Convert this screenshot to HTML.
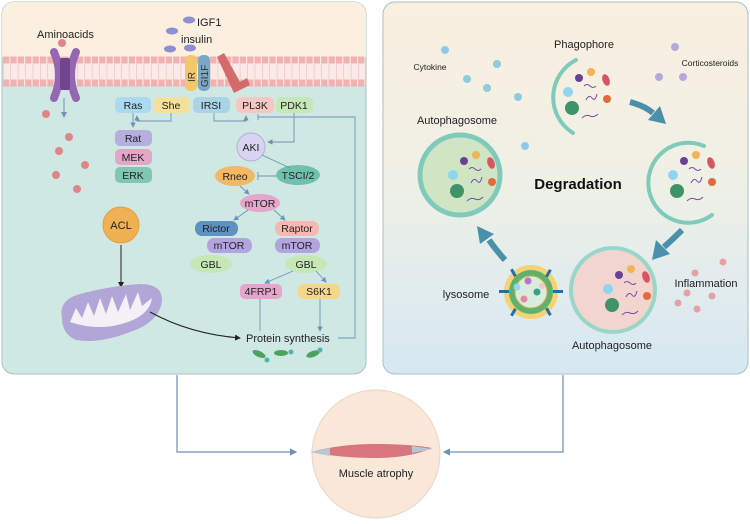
<!DOCTYPE html>
<html><head><meta charset="utf-8"><style>
html,body{margin:0;padding:0;background:#fff}
svg{display:block;font-family:"Liberation Sans",Arial,sans-serif}
</style></head><body>
<svg width="750" height="524" viewBox="0 0 750 524" xmlns="http://www.w3.org/2000/svg">
<defs>
<linearGradient id="rg" x1="0" y1="0" x2="0" y2="1"><stop offset="0" stop-color="#faefdf"/><stop offset="0.5" stop-color="#eef0e6"/><stop offset="1" stop-color="#d6e8f2"/></linearGradient>
<marker id="ab" markerWidth="6" markerHeight="6" refX="5" refY="3" orient="auto"><path d="M0,0 L6,3 L0,6z" fill="#6f93b5"/></marker>
<marker id="ak" markerWidth="6" markerHeight="6" refX="5" refY="3" orient="auto"><path d="M0,0 L6,3 L0,6z" fill="#222"/></marker>
</defs>

<!-- Left panel -->
<rect x="2" y="2" width="364" height="372" rx="12" fill="#cfe8e3" stroke="#a7c3c4"/>
<path d="M2,57 V14 a12,12 0 0 1 12,-12 H354 a12,12 0 0 1 12,12 V57z" fill="#fbefdf"/>
<rect x="3" y="58" width="362" height="27" fill="#fbe9e6"/>
<line x1="3" y1="60" x2="365" y2="60" stroke="#f1b1b1" stroke-width="7" stroke-dasharray="6.2 1.2"/>
<line x1="3" y1="83" x2="365" y2="83" stroke="#f1b1b1" stroke-width="7" stroke-dasharray="6.2 1.2"/>
<line x1="3" y1="71.5" x2="365" y2="71.5" stroke="#d9b2b2" stroke-width="16" stroke-dasharray="0.6 6.8" opacity="0.7"/>
<!-- channel -->
<path d="M54,52 Q64,75 54,98" stroke="#9468b0" stroke-width="8" fill="none" stroke-linecap="round"/>
<path d="M76,52 Q66,75 76,98" stroke="#9468b0" stroke-width="8" fill="none" stroke-linecap="round"/>
<rect x="60" y="58" width="10" height="32" rx="2" fill="#6f4590"/>
<line x1="64" y1="98" x2="64" y2="117" stroke="#6f93b5" marker-end="url(#ab)"/>
<text x="37" y="38" font-size="11" fill="#222">Aminoacids</text>
<g fill="#e08585"><circle cx="62" cy="43" r="4"/><circle cx="46" cy="114" r="4"/><circle cx="69" cy="137" r="4"/><circle cx="59" cy="151" r="4"/><circle cx="85" cy="165" r="4"/><circle cx="56" cy="175" r="4"/><circle cx="77" cy="189" r="4"/></g>
<g fill="#8e8fd0"><ellipse cx="189" cy="20" rx="6" ry="3.5"/><ellipse cx="172" cy="31" rx="6" ry="3.5"/><ellipse cx="170" cy="49" rx="6" ry="3.5"/><ellipse cx="190" cy="48" rx="6" ry="3.5"/></g>
<text x="197" y="26" font-size="11" fill="#222">IGF1</text>
<text x="181" y="43" font-size="11" fill="#222">insulin</text>
<rect x="185" y="55" width="12" height="36" rx="5" fill="#f2c86a"/>
<rect x="198" y="55" width="12" height="36" rx="5" fill="#7aa7c4"/>
<text transform="translate(195,82) rotate(-90)" font-size="10" fill="#333">IR</text>
<text transform="translate(208,87) rotate(-90)" font-size="10" fill="#333">GI1F</text>
<path d="M217,57 L224,53 L240,82 L247,78 L250,85 L234,93z" fill="#d46a6a"/>
<g font-size="10.5" text-anchor="middle" fill="#222">
<rect x="115" y="97" width="36" height="16" rx="5" fill="#a9daf0"/><text x="133" y="109">Ras</text>
<rect x="153" y="97" width="37" height="16" rx="5" fill="#f4e09a"/><text x="171" y="109">She</text>
<rect x="193" y="97" width="37" height="16" rx="5" fill="#a9d4e6"/><text x="211" y="109">IRSI</text>
<rect x="236" y="97" width="38" height="16" rx="5" fill="#f5c7c3"/><text x="255" y="109">PL3K</text>
<rect x="276" y="97" width="37" height="16" rx="5" fill="#c6e8b6"/><text x="294" y="109">PDK1</text>
<rect x="115" y="130" width="37" height="16" rx="5" fill="#b7aee0"/><text x="133" y="142">Rat</text>
<rect x="115" y="149" width="37" height="16" rx="5" fill="#e3a6c8"/><text x="133" y="161">MEK</text>
<rect x="115" y="167" width="37" height="16" rx="5" fill="#7fc7b0"/><text x="133" y="179">ERK</text>
<circle cx="251" cy="147" r="14" fill="#d8d3f0" stroke="#b5aee0"/><text x="251" y="151">AKI</text>
<ellipse cx="298" cy="175" rx="22" ry="10" fill="#6fc0ad"/><text x="298" y="179">TSCI/2</text>
<ellipse cx="235" cy="176" rx="20" ry="10" fill="#f2b864"/><text x="235" y="180">Rneo</text>
<ellipse cx="260" cy="203" rx="20" ry="9" fill="#e6a6cb"/><text x="260" y="207">mTOR</text>
<rect x="195" y="221" width="43" height="15" rx="7" fill="#5f92c0"/><text x="216" y="232">Rictor</text>
<rect x="207" y="238" width="45" height="15" rx="7" fill="#b2a5df"/><text x="229" y="249">mTOR</text>
<ellipse cx="211" cy="264" rx="21" ry="9" fill="#c6e8b6"/><text x="211" y="268">GBL</text>
<rect x="275" y="221" width="44" height="15" rx="7" fill="#f5b9b2"/><text x="297" y="232">Raptor</text>
<rect x="275" y="238" width="45" height="15" rx="7" fill="#b2a5df"/><text x="297" y="249">mTOR</text>
<ellipse cx="306" cy="264" rx="21" ry="9" fill="#c6e8b6"/><text x="306" y="268">GBL</text>
<rect x="240" y="284" width="42" height="15" rx="5" fill="#e6a6cb"/><text x="261" y="295">4FRP1</text>
<rect x="298" y="284" width="42" height="15" rx="5" fill="#f4d88a"/><text x="319" y="295">S6K1</text>
</g>
<g stroke="#6f93b5" fill="none" stroke-width="0.9">
<path d="M171,113 V121 H137 V116" marker-end="url(#ab)"/>
<path d="M133,113 V127" marker-end="url(#ab)"/>
<path d="M214,113 V121 H246 V116" marker-end="url(#ab)"/>
<path d="M294,113 V142 H268" marker-end="url(#ab)"/>
<path d="M262,155 L290,168"/>
<path d="M276,176 H258"/><path d="M258,172 V180"/>
<path d="M240,186 L249,194" marker-end="url(#ab)"/>
<path d="M248,210 L234,220" marker-end="url(#ab)"/>
<path d="M274,210 L285,220" marker-end="url(#ab)"/>
<path d="M293,271 L265,283" marker-end="url(#ab)"/>
<path d="M316,271 L326,282" marker-end="url(#ab)"/>
<path d="M260,299 V331"/>
<path d="M320,299 V331" marker-end="url(#ab)"/>
<path d="M338,338 H355 V117 H258"/><path d="M258,114 V120"/>
</g>
<circle cx="121" cy="225" r="18" fill="#f0b154" stroke="#e39e3c"/>
<text x="121" y="229" font-size="11" text-anchor="middle" fill="#222">ACL</text>
<line x1="121" y1="245" x2="121" y2="287" stroke="#222" marker-end="url(#ak)"/>
<!-- mitochondrion -->
<path d="M62,318 Q58,300 80,294 Q110,286 140,284 Q162,284 162,300 Q160,322 130,332 Q100,344 76,340 Q62,334 62,318z" fill="#b2a5d8"/>
<path d="M70,322 L76,308 L82,318 L88,302 L94,316 L100,298 L106,314 L112,296 L118,312 L126,294 L130,310 L138,292 L142,306 L152,298 Q150,314 128,322 Q100,332 70,322z" fill="#f3f0f6"/>
<path d="M150,312 Q190,334 240,338" stroke="#222" fill="none" marker-end="url(#ak)"/>
<text x="246" y="342" font-size="11" fill="#222">Protein synthesis</text>
<g fill="#4aa35e"><ellipse cx="259" cy="354" rx="7" ry="3" transform="rotate(25 259 354)"/><ellipse cx="281" cy="353" rx="7" ry="3"/><ellipse cx="313" cy="354" rx="7" ry="3" transform="rotate(-20 313 354)"/></g>
<g fill="#4fb3b0"><circle cx="267" cy="360" r="2.5"/><circle cx="291" cy="352" r="2.5"/><circle cx="320" cy="350" r="2.5"/></g>

<!-- Right panel -->
<rect x="383" y="2" width="365" height="372" rx="12" fill="url(#rg)" stroke="#a7bfcc"/>
<text x="584" y="48" font-size="11" text-anchor="middle" fill="#222">Phagophore</text>
<text x="430" y="70" font-size="8.5" text-anchor="middle" fill="#222">Cytokine</text>
<text x="710" y="66" font-size="8.5" text-anchor="middle" fill="#222">Corticosteroids</text>
<text x="457" y="124" font-size="11" text-anchor="middle" fill="#222">Autophagosome</text>
<text x="578" y="189" font-size="15" font-weight="bold" text-anchor="middle" fill="#111">Degradation</text>
<text x="466" y="298" font-size="11" text-anchor="middle" fill="#222">lysosome</text>
<text x="706" y="287" font-size="11" text-anchor="middle" fill="#222">Inflammation</text>
<text x="612" y="349" font-size="11" text-anchor="middle" fill="#222">Autophagosome</text>
<g fill="#8dcbe3"><circle cx="445" cy="50" r="4"/><circle cx="497" cy="64" r="4"/><circle cx="467" cy="79" r="4"/><circle cx="487" cy="88" r="4"/><circle cx="518" cy="97" r="4"/><circle cx="525" cy="146" r="4"/></g>
<g fill="#b2a9dc"><circle cx="675" cy="47" r="4"/><circle cx="659" cy="77" r="4"/><circle cx="683" cy="77" r="4"/></g>
<g fill="#e6a0a6"><circle cx="723" cy="262" r="3.5"/><circle cx="695" cy="273" r="3.5"/><circle cx="687" cy="293" r="3.5"/><circle cx="712" cy="296" r="3.5"/><circle cx="678" cy="303" r="3.5"/><circle cx="697" cy="309" r="3.5"/></g>
<path d="M576,60 A42,42 0 0 0 573,133" stroke="#7fcabb" stroke-width="4" fill="none" stroke-linecap="round"/>
<g id="cargo">
<circle cx="579" cy="78" r="4" fill="#6b3f97"/><circle cx="591" cy="72" r="4" fill="#f0b454"/>
<ellipse cx="606" cy="80" rx="3.5" ry="6" fill="#d8545e" transform="rotate(-20 606 80)"/>
<circle cx="568" cy="92" r="5" fill="#8fd5ee"/><circle cx="607" cy="99" r="4" fill="#e26b3a"/>
<circle cx="572" cy="108" r="7" fill="#3f9368"/>
<path d="M584,86 q3,-3 6,0 t6,0 M586,100 q3,-6 6,-2 t5,-4 M582,118 q4,-4 8,-2 t8,-2" stroke="#7b4aa8" stroke-width="1" fill="none"/>
</g>
<!-- big arrows -->
<path d="M630,102 Q645,106 653,113" stroke="#4a90aa" stroke-width="6" fill="none"/>
<path d="M648,120 L666,124 L660,106z" fill="#4a90aa"/>
<path d="M704,146 A40,40 0 1 0 712,215" stroke="#7fcabb" stroke-width="4" fill="none" stroke-linecap="round"/>
<use href="#cargo" transform="translate(105,83)"/>
<circle cx="460" cy="175" r="40" fill="#cfe5c3" stroke="#7fcabb" stroke-width="5"/>
<use href="#cargo" transform="translate(-115,83)"/>
<circle cx="613" cy="290" r="42" fill="#f2d5cf" stroke="#9ad6c7" stroke-width="4"/>
<use href="#cargo" transform="translate(40,197)"/>
<path d="M682,230 Q672,240 664,247" stroke="#4a90aa" stroke-width="6" fill="none"/>
<path d="M656,240 L652,260 L670,254z" fill="#4a90aa"/>
<path d="M505,260 Q496,250 489,240" stroke="#4a90aa" stroke-width="6" fill="none"/>
<path d="M480,244 L477,226 L494,234z" fill="#4a90aa"/>
<!-- lysosome -->
<circle cx="531" cy="292" r="27" fill="#f5d274"/>
<circle cx="531" cy="292" r="22" fill="#5fb26d"/>
<circle cx="531" cy="292" r="16" fill="#d9ecde" stroke="#e0a94a" stroke-width="1"/>
<g fill="#1c6fb0"><rect x="512" y="269" width="3" height="8" transform="rotate(-30 513 273)"/><rect x="547" y="269" width="3" height="8" transform="rotate(30 548 273)"/><rect x="512" y="308" width="3" height="8" transform="rotate(30 513 312)"/><rect x="547" y="308" width="3" height="8" transform="rotate(-30 548 312)"/><rect x="499" y="290" width="10" height="3"/><rect x="553" y="290" width="10" height="3"/></g>
<circle cx="528" cy="281" r="3.5" fill="#b07ac8"/><circle cx="517" cy="287" r="3.5" fill="#9ad4ee"/><circle cx="537" cy="292" r="3.5" fill="#3aa08a"/><circle cx="524" cy="299" r="3.5" fill="#e28aa0"/><circle cx="542" cy="286" r="3" fill="#f2c7c3"/>

<!-- bottom -->
<path d="M177,375 V452 H296" stroke="#6f8fbb" stroke-width="1.2" fill="none" marker-end="url(#ab)"/>
<path d="M563,375 V452 H444" stroke="#6f8fbb" stroke-width="1.2" fill="none" marker-end="url(#ab)"/>
<circle cx="376" cy="454" r="64" fill="#f9e8d8" stroke="#ead5c6"/>
<path d="M311,452 Q340,444 375,444 Q410,444 432,448 Q410,458 375,458 Q340,458 311,452z" fill="#d9767d"/>
<path d="M310,452 L330,448 L330,456z M432,449 L412,446 L412,453z" fill="#b8c6dc"/>
<text x="376" y="477" font-size="11" text-anchor="middle" fill="#222">Muscle atrophy</text>
</svg>
</body></html>
